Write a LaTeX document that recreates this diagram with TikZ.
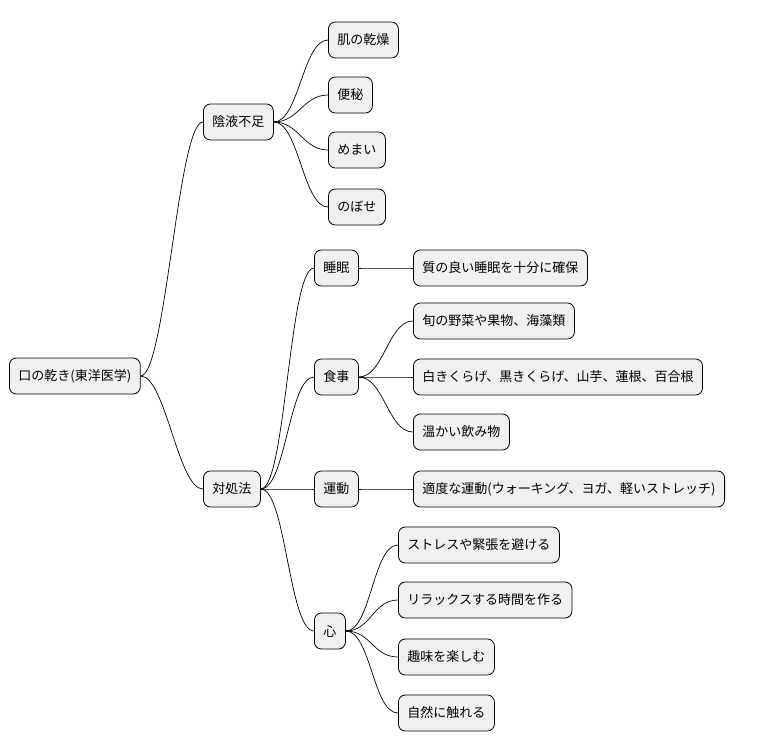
\documentclass[tikz,border=0pt]{standalone}
\usepackage{fontspec}
\setmainfont{Noto Sans CJK JP}
\begin{document}
\begin{tikzpicture}[x=1pt,y=-1pt,
  box/.style={draw=black,line width=0.8pt,fill=black!6,rounded corners=7pt,anchor=west,minimum height=36pt,inner xsep=9pt,font=\fontsize{13}{15}\selectfont},
  link/.style={draw=black,line width=0.7pt}]
\useasboundingbox (0,0) rectangle (762,752);
\node[box] (r) at (9,376) {口の乾き(東洋医学)};
\node[box] (a) at (203,122) {陰液不足};
\node[box] (a1) at (328,40) {肌の乾燥};
\node[box] (a2) at (328,95) {便秘};
\node[box] (a3) at (328,150) {めまい};
\node[box] (a4) at (328,207) {のぼせ};
\node[box] (b) at (203,489) {対処法};
\node[box] (s) at (314,268) {睡眠};
\node[box] (s1) at (413,268) {質の良い睡眠を十分に確保};
\node[box] (f) at (314,377) {食事};
\node[box] (f1) at (413,321) {旬の野菜や果物、海藻類};
\node[box] (f2) at (413,377) {白きくらげ、黒きくらげ、山芋、蓮根、百合根};
\node[box] (f3) at (413,432) {温かい飲み物};
\node[box] (u) at (314,489) {運動};
\node[box] (u1) at (413,489) {適度な運動(ウォーキング、ヨガ、軽いストレッチ)};
\node[box] (h) at (314,631) {心};
\node[box] (h1) at (398,545) {ストレスや緊張を避ける};
\node[box] (h2) at (398,600) {リラックスする時間を作る};
\node[box] (h3) at (398,657) {趣味を楽しむ};
\node[box] (h4) at (398,713) {自然に触れる};
\foreach \p/\c in {r/a,r/b,a/a1,a/a2,a/a3,a/a4,b/s,b/f,b/u,b/h,s/s1,f/f1,f/f2,f/f3,u/u1,h/h1,h/h2,h/h3,h/h4}
  \draw[link] (\p.east) .. controls ([xshift=25pt]\p.east) and ([xshift=-25pt]\c.west) .. (\c.west);
\end{tikzpicture}
\end{document}
